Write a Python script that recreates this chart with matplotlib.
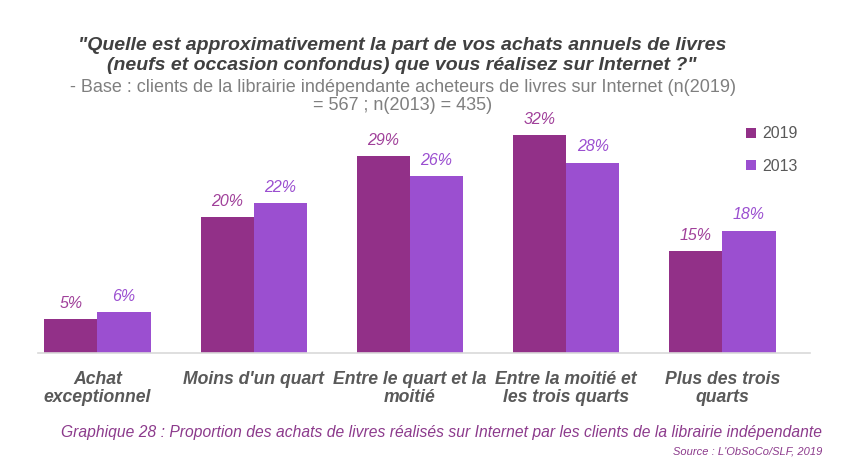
import matplotlib.pyplot as plt
import numpy as np

categories = ["Achat\nexceptionnel", "Moins d'un quart", "Entre le quart et la\nmoitié",
              "Entre la moitié et\nles trois quarts", "Plus des trois\nquarts"]
values_2019 = [5, 20, 29, 32, 15]
values_2013 = [6, 22, 26, 28, 18]

c2019 = "#923088"
c2013 = "#9b4fd0"
grey = "#595959"
arial = ["Liberation Sans", "DejaVu Sans"]

W, H = 857, 468
fig = plt.figure(figsize=(W / 100, H / 100), dpi=100)
fig.patch.set_facecolor("white")

# axes placed in pixel terms
ax_left, ax_right, ax_base = 38, 810, 353
ymax = 35
px_per_pct = 6.8
ax = fig.add_axes([ax_left / W, (H - ax_base) / H, (ax_right - ax_left) / W,
                   ymax * px_per_pct / H])

x = np.arange(len(categories))
bw = 0.34
ax.bar(x - bw / 2, values_2019, width=bw, color=c2019, label="2019")
ax.bar(x + bw / 2, values_2013, width=bw, color=c2013, label="2013")

for xi, v in zip(x, values_2019):
    ax.text(xi - bw / 2, v + 1.2, f"{v}%", ha="center", va="bottom",
            color="#a0409a", fontsize=11.5, style="italic", family=arial)
for xi, v in zip(x, values_2013):
    ax.text(xi + bw / 2, v + 1.2, f"{v}%", ha="center", va="bottom",
            color=c2013, fontsize=11.5, style="italic", family=arial)

ax.set_xlim(-0.38, 4.56)
ax.set_ylim(0, ymax)
ax.set_yticks([])
ax.set_xticks(x)
ax.set_xticklabels(categories, fontsize=12.7, fontweight="bold", style="italic",
                   color=grey, linespacing=1.1, family=arial)
ax.tick_params(axis="x", length=0, pad=13)
for s in ["top", "right", "left"]:
    ax.spines[s].set_visible(False)
ax.spines["bottom"].set_color("#d9d9d9")
ax.spines["bottom"].set_linewidth(1.2)

leg = fig.legend(loc="upper left", bbox_to_anchor=(732 / W, 1 - 112 / H),
                 frameon=False, handlelength=0.6, handleheight=0.6,
                 handletextpad=0.4, labelspacing=1.1, labelcolor=grey,
                 prop={"family": arial, "size": 11.5})

fig.text(402 / W, 1 - 45 / H, "\"Quelle est approximativement la part de vos achats annuels de livres",
         ha="center", va="center", fontsize=14, fontweight="bold", style="italic",
         color="#404040", family=arial)
fig.text(402 / W, 1 - 66 / H, "(neufs et occasion confondus) que vous réalisez sur Internet ?\"",
         ha="center", va="center", fontsize=14, fontweight="bold", style="italic",
         color="#404040", family=arial)
fig.text(403 / W, 1 - 87 / H, "- Base : clients de la librairie indépendante acheteurs de livres sur Internet (n(2019)",
         ha="center", va="center", fontsize=13, color="#7f7f7f", family=arial)
fig.text(403 / W, 1 - 106 / H, "= 567 ; n(2013) = 435)",
         ha="center", va="center", fontsize=13, color="#7f7f7f", family=arial)

fig.text(822 / W, 1 - 432 / H, "Graphique 28 : Proportion des achats de livres réalisés sur Internet par les clients de la librairie indépendante",
         ha="right", va="center", fontsize=11.25, style="italic", color="#8c3a8c", family=arial)
fig.text(822 / W, 1 - 451 / H, "Source : L'ObSoCo/SLF, 2019",
         ha="right", va="center", fontsize=8, style="italic", color="#8c3a8c", family=arial)

fig.savefig("out.png", dpi=100, facecolor="white")
